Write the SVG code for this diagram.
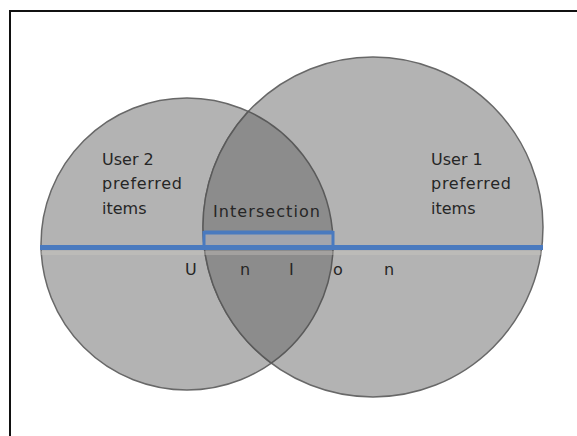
<svg xmlns="http://www.w3.org/2000/svg" width="577" height="436" viewBox="0 0 577 436">
  <style>
    .set { fill: #b3b3b3; stroke: #686868; stroke-width: 1.5; }
    .lens { fill: #8c8c8c; stroke: #5a5a5a; stroke-width: 1.5; }
    .bar { stroke: #4a7abf; fill: none; }
    .label { font-family: "DejaVu Sans", "Liberation Sans", sans-serif; font-size: 16px; fill: #262626; }
  </style>
  <rect width="577" height="436" fill="#ffffff"/>
  <!-- frame: only the top and left edges fall inside the canvas -->
  <path d="M10 436 V11 H577" fill="none" stroke="#111111" stroke-width="2"/>

  <g id="user2">
    <circle class="set" cx="187" cy="244" r="146"/>
  </g>
  <g id="user1">
    <circle class="set" cx="373" cy="227" r="170"/>
  </g>
  <g id="intersection">
    <!-- lens bounded by the left arc of set 1 and the right arc of set 2 -->
    <path class="lens" d="M248.3 111.4 A170 170 0 0 0 271.3 363.2 A146 146 0 0 0 248.3 111.4 Z"/>
  </g>

  <g id="connectors">
    <!-- faint light band under the union bar -->
    <path d="M41 253 H542" stroke="#cfcac4" stroke-width="4" opacity="0.35"/>
    <!-- intersection bar -->
    <rect x="204" y="232.5" width="129" height="14.5" fill="#a3a5ad" stroke="#4a7abf" stroke-width="3"/>
    <path class="bar" d="M204 232.5 H333" stroke-width="4"/>
    <!-- union bar -->
    <path class="bar" d="M40 247.5 H543" stroke-width="5"/>
  </g>

  <g id="labels">
    <text class="label" x="102" y="165">User 2</text>
    <text class="label" x="102" y="189" textLength="80">preferred</text>
    <text class="label" x="102" y="214">items</text>
    <text class="label" x="431" y="165">User 1</text>
    <text class="label" x="431" y="189" textLength="80">preferred</text>
    <text class="label" x="431" y="214">items</text>
    <text class="label" x="213" y="217" textLength="107">Intersection</text>
    <text class="label" x="185 240 289 333 384" y="275">UnIon</text>
  </g>
</svg>
